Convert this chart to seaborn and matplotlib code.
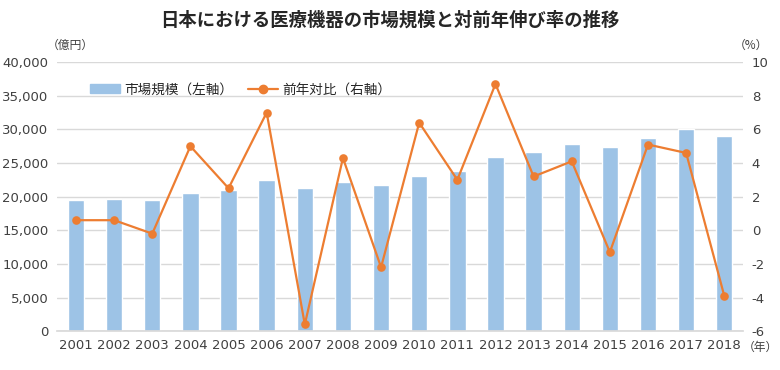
import numpy as np
import pandas as pd
import matplotlib
matplotlib.use("Agg")
import matplotlib.pyplot as plt
import seaborn as sns
from matplotlib.patches import Patch
from matplotlib.lines import Line2D
from matplotlib.ticker import FuncFormatter

years = [str(y) for y in range(2001, 2019)]
market = [19500, 19600, 19500, 20500, 21000, 22500, 21300, 22200, 21700,
          23000, 23800, 25900, 26600, 27800, 27400, 28700, 30000, 29000]
growth = [0.6, 0.6, -0.2, 5.0, 2.5, 7.0, -5.6, 4.3, -2.2,
          6.4, 3.0, 8.7, 3.2, 4.1, -1.3, 5.1, 4.6, -3.9]

bar_color = "#9DC3E6"
line_color = "#ED7D31"

sns.set_theme(style="white")
plt.rcParams['font.family'] = ['DejaVu Sans', 'Noto Sans CJK JP']
plt.rcParams['axes.unicode_minus'] = False

df = pd.DataFrame({"year": years, "market": market, "growth": growth})

fig = plt.figure(figsize=(7.8, 3.7), dpi=100)
ax = fig.add_axes([0.073, 0.105, 0.88, 0.727])

sns.barplot(data=df, x="year", y="market", color=bar_color, width=0.43,
            saturation=1, ax=ax, zorder=2)
ax.set_ylim(0, 40000)
ax.set_yticks(np.arange(0, 40001, 5000))
ax.yaxis.set_major_formatter(FuncFormatter(lambda v, p: f"{int(v):,}"))
ax.grid(axis="y", color="#D9D9D9", linewidth=1, zorder=0)
ax.set_axisbelow(True)
ax.set_xlabel("")
ax.set_ylabel("")
for s in ["top", "right", "left"]:
    ax.spines[s].set_visible(False)
ax.spines["bottom"].set_color("#D9D9D9")
ax.tick_params(axis="both", length=0, labelsize=9.5, colors="#404040", pad=6)

ax2 = ax.twinx()
sns.pointplot(data=df, x="year", y="growth", color=line_color, markers="o",
              markersize=5, linewidth=1.6, ax=ax2)
ax2.set_ylim(-6, 10)
ax2.set_yticks(np.arange(-6, 11, 2))
ax2.set_ylabel("")
for s in ["top", "right", "left", "bottom"]:
    ax2.spines[s].set_visible(False)
ax2.tick_params(axis="both", length=0, labelsize=9.5, colors="#404040", pad=6)
ax.set_xlim(-0.5, len(years) - 0.5)
ax2.set_xlim(-0.5, len(years) - 0.5)

handles = [Patch(color=bar_color, label="市場規模（左軸）"),
           Line2D([0], [0], color=line_color, marker="o", markersize=6,
                  linewidth=1.6, label="前年対比（右軸）")]
ax.legend(handles=handles, loc="upper left", bbox_to_anchor=(0.03, 0.97),
          ncol=2, frameon=False, handlelength=2.2, handletextpad=0.3,
          columnspacing=1.1, prop={"family": ["Noto Sans CJK JP"], "size": 9.8})

fig.text(0.5, 0.945, "日本における医療機器の市場規模と対前年伸び率の推移",
         ha="center", va="center", fontsize=13.2, fontweight="bold",
         family=["Noto Sans CJK JP"], color="#262626")
fig.text(0.09, 0.878, "（億円）", ha="center", va="center", fontsize=8.5,
         family=["Noto Sans CJK JP"], color="#404040")
fig.text(0.963, 0.878, "（%）", ha="center", va="center", fontsize=8.5,
         family=["Noto Sans CJK JP"], color="#404040")
fig.text(0.975, 0.062, "（年）", ha="center", va="center", fontsize=8.5,
         family=["Noto Sans CJK JP"], color="#404040")

fig.savefig("out.png", dpi=100)
